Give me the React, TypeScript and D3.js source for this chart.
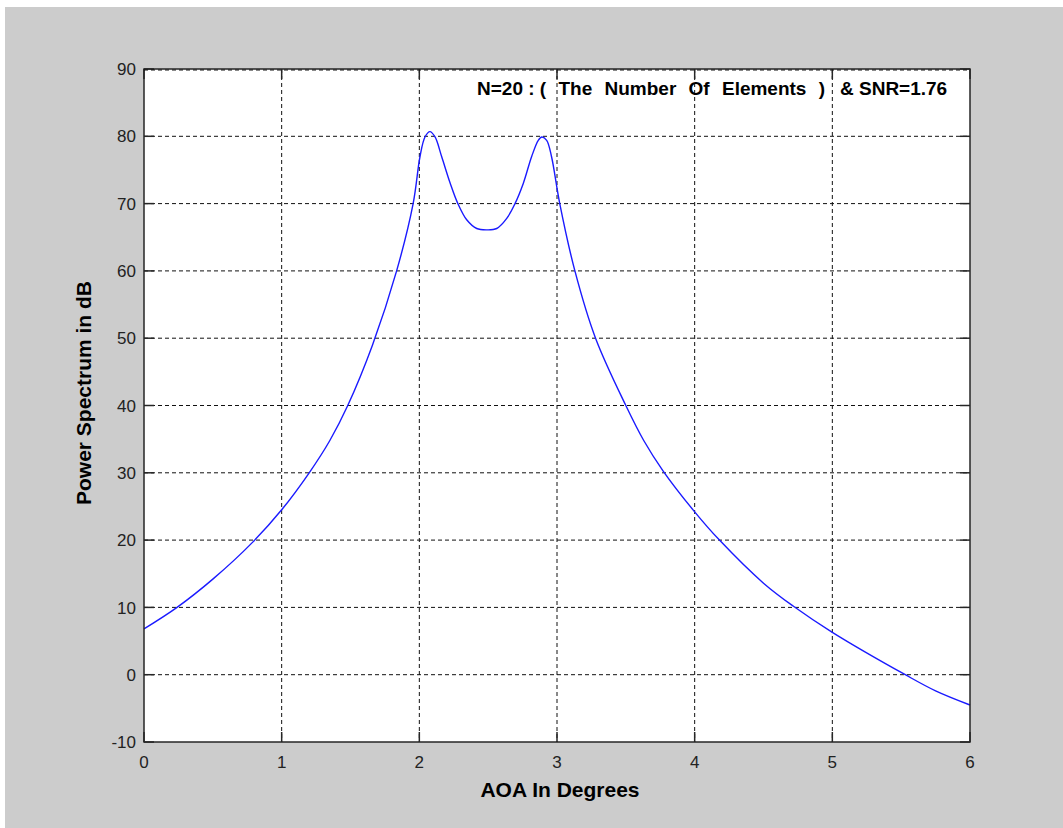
import React from "react";
import * as d3 from "d3";

const aoaDeg = [0, 0.24, 0.5, 0.79, 1.0, 1.2, 1.35, 1.48, 1.66, 1.835, 1.955, 2.005, 2.041, 2.077, 2.114, 2.162, 2.223, 2.28, 2.344, 2.417, 2.49, 2.562, 2.635, 2.695, 2.755, 2.816, 2.864, 2.89, 2.925, 2.96, 3.02, 3.13, 3.28, 3.5, 3.63, 3.77, 4.0, 4.18, 4.5, 4.715, 5.0, 5.53, 5.75, 6.0];
const powerDb = [6.8, 10, 14.2, 19.7, 24.5, 30, 34.8, 40, 49, 60, 70, 77, 79.9, 80.7, 79.9, 77, 73.1, 70, 67.6, 66.3, 66.1, 66.3, 67.8, 70, 73, 77, 79.4, 79.9, 79.4, 77, 70, 60, 50, 40, 34.8, 30.3, 24.2, 20, 13.6, 10.2, 6.3, 0, -2.4, -4.5];

const xTicks = [0, 1, 2, 3, 4, 5, 6];
const yTicks = [-10, 0, 10, 20, 30, 40, 50, 60, 70, 80, 90];

const titleHead = "N=20 : (";
const titleMid = " The Number Of Elements ) ";
const titleTail = "& SNR=1.76";
const xLabel = "AOA In Degrees";
const yLabel = "Power Spectrum in dB";

export default function App() {
  const W = 1063, H = 828;
  const L = 144, R = 970, T = 69, B = 742;
  const x = d3.scaleLinear().domain([0, 6]).range([L, R]);
  const y = d3.scaleLinear().domain([-10, 90]).range([B, T]);
  const pts = aoaDeg.map((a, i) => [a, powerDb[i]] as [number, number]);
  const line = d3.line<[number, number]>()
    .x(d => x(d[0]))
    .y(d => y(d[1]))
    .curve(d3.curveCatmullRom.alpha(0.5));
  const font = "'Liberation Sans', Arial, Helvetica, sans-serif";
  const tickLen = 10;
  const axisColor = "#262626";
  return (
    <svg width={W} height={H} style={{ position: "absolute", left: 0, top: 0 }} xmlns="http://www.w3.org/2000/svg">
      <rect x={0} y={0} width={W} height={H} fill="#ffffff" />
      <rect x={5} y={7} width={W - 5} height={H - 7} fill="#cccccc" />
      <rect x={L} y={T} width={R - L} height={B - T} fill="#ffffff" />
      {/* grid */}
      {xTicks.slice(1, -1).map(t => (
        <line key={"gx" + t} x1={x(t)} x2={x(t)} y1={T} y2={B} stroke="#111" strokeWidth={1} strokeDasharray="4,3" />
      ))}
      {yTicks.slice(1, -1).map(t => (
        <line key={"gy" + t} x1={L} x2={R} y1={y(t)} y2={y(t)} stroke="#111" strokeWidth={1} strokeDasharray="4,3" />
      ))}
      {/* ticks */}
      {xTicks.map(t => (
        <g key={"tx" + t}>
          <line x1={x(t)} x2={x(t)} y1={B} y2={B - tickLen} stroke={axisColor} strokeWidth={1.5} />
          <line x1={x(t)} x2={x(t)} y1={T} y2={T + tickLen} stroke={axisColor} strokeWidth={1.5} />
        </g>
      ))}
      {yTicks.map(t => (
        <g key={"ty" + t}>
          <line x1={L} x2={L + tickLen} y1={y(t)} y2={y(t)} stroke={axisColor} strokeWidth={1.5} />
          <line x1={R} x2={R - tickLen} y1={y(t)} y2={y(t)} stroke={axisColor} strokeWidth={1.5} />
        </g>
      ))}
      {/* curve */}
      <path d={line(pts) || ""} fill="none" stroke="#1a1aff" strokeWidth={1.4} />
      {/* box */}
      <rect x={L} y={T} width={R - L} height={B - T} fill="none" stroke={axisColor} strokeWidth={1.5} />
      <line x1={L} x2={R} y1={T + 1} y2={T + 1} stroke="#111" strokeWidth={1} strokeDasharray="4,3" />
      {/* tick labels */}
      {xTicks.map(t => (
        <text key={"lx" + t} x={x(t)} y={768} textAnchor="middle" fontFamily={font} fontSize={17} fill="#222">{t}</text>
      ))}
      {yTicks.map(t => (
        <text key={"ly" + t} x={136} y={y(t)} dy="0.36em" textAnchor="end" fontFamily={font} fontSize={17} fill="#222">{t}</text>
      ))}
      {/* annotation */}
      <text y={95} fontFamily={font} fontSize={19} fontWeight="bold" fill="#000" style={{ whiteSpace: "pre" }}>
        <tspan x={477}>{titleHead}</tspan>
        <tspan wordSpacing={7}>{titleMid}</tspan>
        <tspan x={840}>{titleTail}</tspan>
      </text>
      {/* axis labels */}
      <text x={560} y={797} textAnchor="middle" fontFamily={font} fontSize={21} fontWeight="bold" fill="#000">{xLabel}</text>
      <text transform={`translate(91, 393) rotate(-90)`} textAnchor="middle" fontFamily={font} fontSize={21} fontWeight="bold" fill="#000">{yLabel}</text>
    </svg>
  );
}
